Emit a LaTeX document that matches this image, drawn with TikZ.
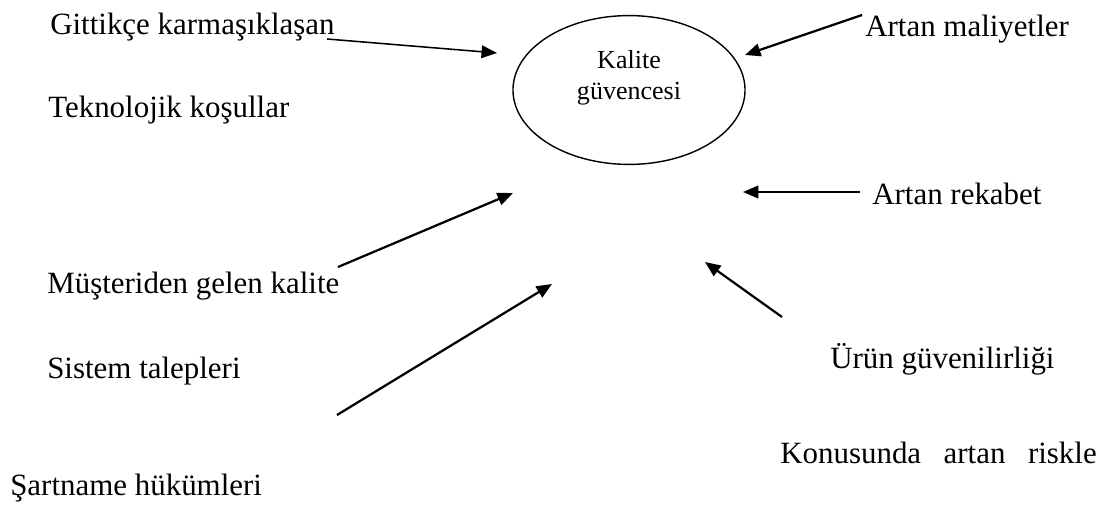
\documentclass[tikz,border=0pt]{standalone}
\usepackage{fontspec}
\setmainfont{Liberation Serif}
\usetikzlibrary{arrows.meta,shapes.geometric}

\tikzset{
  etken/.style={anchor=base west,inner sep=0pt,font=\fontsize{22}{26}\selectfont},
  ok/.style={line width=1.6pt,-{Triangle[length=11pt,width=9pt]}}
}

\begin{document}
\begin{tikzpicture}[x=0.025cm,y=-0.025cm]
\useasboundingbox (0,0) rectangle (1117,525);

% merkez
\node[draw,ellipse,line width=1pt,minimum width=5.8cm,minimum height=3.72cm] (kg) at (629,90) {};
\node[align=center,font=\fontsize{18.5}{22.5}\selectfont,anchor=base] (kgyazi) at (629,100) {Kalite\\güvencesi};

% etkenler
\node[etken] (gittikce) at (50,35) {Gittikçe karmaşıklaşan};
\node[etken] (teknoloji) at (48,118) {Teknolojik koşullar};
\node[etken] (maliyet) at (865,37) {Artan maliyetler};
\node[etken] (rekabet) at (872,205) {Artan rekabet};
\node[etken] (musteri) at (47,293) {Müşteriden gelen kalite};
\node[etken] (sistem) at (47,378) {Sistem talepleri};
\node[etken] (urun) at (830,368) {Ürün güvenilirliği};
\node[etken] (konusunda) at (780,463) {Konusunda\hspace{16pt}artan\hspace{16pt}riskle};
\node[etken] (sartname) at (10,495) {Şartname hükümleri};

% ok uclari
\coordinate (a1) at (327,39);  \coordinate (b1) at (497,53);
\coordinate (a2) at (862,15);  \coordinate (b2) at (745,55);
\coordinate (a3) at (860,192); \coordinate (b3) at (743,192);
\coordinate (a4) at (338,267); \coordinate (b4) at (513,193);
\coordinate (a5) at (337,415); \coordinate (b5) at (552,284);
\coordinate (a6) at (782,317); \coordinate (b6) at (705,262);

\draw[ok,line width=1.1pt] (a1) -- (b1);
\draw[ok] (a2) -- (b2);
\draw[ok] (a3) -- (b3);
\draw[ok] (a4) -- (b4);
\draw[ok] (a5) -- (b5);
\draw[ok] (a6) -- (b6);
\end{tikzpicture}
\end{document}
